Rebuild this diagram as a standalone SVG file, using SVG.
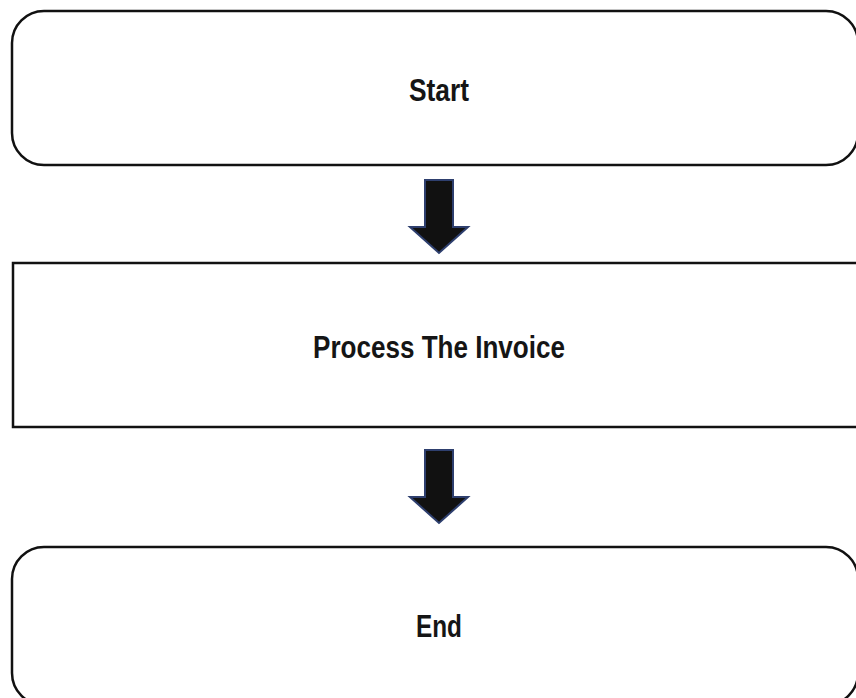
<svg xmlns="http://www.w3.org/2000/svg" width="856" height="698" viewBox="0 0 856 698">
<style>
.box{fill:#fff;stroke:#111;stroke-width:2.5}
.lbl{font-family:"Liberation Sans",Arial,sans-serif;font-weight:bold;font-size:32px;fill:#151515;text-anchor:middle}
.arr{fill:#111;stroke:#2e3f6e;stroke-width:2}
</style>
<rect width="856" height="698" fill="#fff"/>
<g id="start">
<rect class="box" x="12" y="11" width="846" height="154" rx="32"/>
<text class="lbl" x="439" y="101" textLength="60" lengthAdjust="spacingAndGlyphs">Start</text>
</g>
<g id="process">
<rect class="box" x="13" y="263" width="876" height="164"/>
<text class="lbl" x="439" y="358" textLength="252" lengthAdjust="spacingAndGlyphs">Process The Invoice</text>
</g>
<g id="end">
<rect class="box" x="12" y="547" width="846" height="158" rx="32"/>
<text class="lbl" x="439" y="637" textLength="46" lengthAdjust="spacingAndGlyphs">End</text>
</g>
<g id="connectors">
<path class="arr" d="M425,180 H453 V227 H468 L439,253 L410,227 H425 Z"/>
<path class="arr" d="M425,450 H453 V497 H468 L439,523 L410,497 H425 Z"/>
</g>
</svg>
